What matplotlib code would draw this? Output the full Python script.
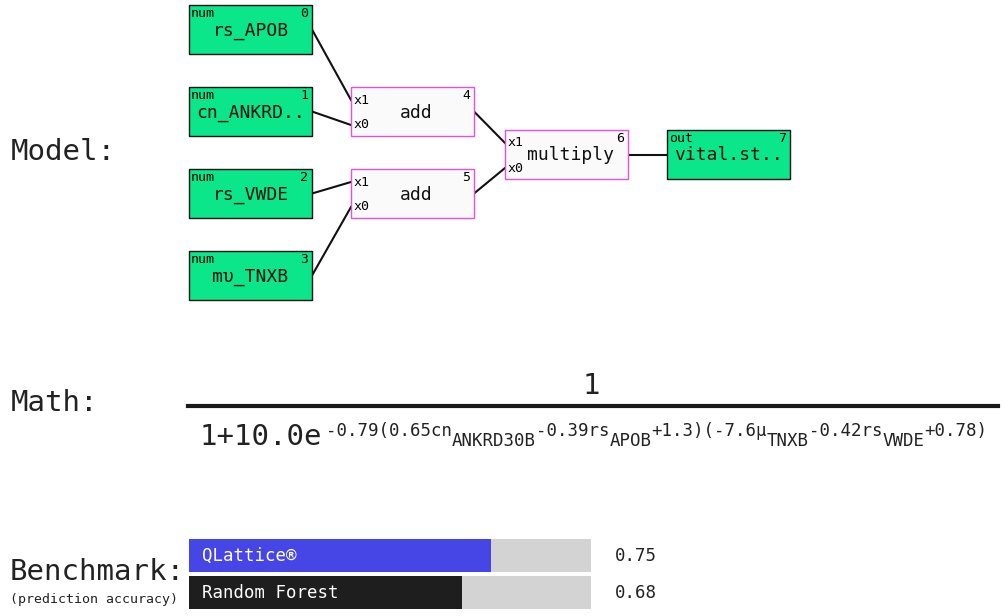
import matplotlib
matplotlib.use("Agg")
import matplotlib.pyplot as plt
from matplotlib.patches import Rectangle

FONT = "DejaVu Sans Mono"
GREEN = "#0be68a"
MAG = "#e650e0"

node_names = ["rs_APOB", "cn_ANKRD..", "rs_VWDE", "mu_TNXB", "add", "add", "multiply", "vital.st.."]
node_tags = ["num", "num", "num", "num", "", "", "", "out"]
node_x = [189, 189, 189, 189, 351, 351, 505, 667]
node_y = [5, 87, 169, 251, 87, 169, 130, 130]
edges = [(0, 4, "x1"), (1, 4, "x0"), (2, 5, "x1"), (3, 5, "x0"), (4, 6, "x1"), (5, 6, "x0"), (6, 7, None)]

bench_labels = ["QLattice\u00ae", "Random Forest"]
bench_values = [0.75, 0.68]
bench_colors = ["#4646e6", "#1e1e1e"]

# exponent pieces: (text, is_subscript)
exp_parts = [("-0.79(0.65cn", False), ("ANKRD30B", True), ("-0.39rs", False), ("APOB", True),
             ("+1.3)(-7.6\u03bc", False), ("TNXB", True), ("-0.42rs", False), ("VWDE", True), ("+0.78)", False)]

W, H = 1005, 616
fig = plt.figure(figsize=(W / 100, H / 100), dpi=100)
ax = fig.add_axes([0, 0, 1, 1])
ax.set_xlim(0, W)
ax.set_ylim(H, 0)
ax.axis("off")

BW, BH = 123, 49
for i, (nm, tg, x, y) in enumerate(zip(node_names, node_tags, node_x, node_y)):
    op = tg == ""
    ax.add_patch(Rectangle((x, y), BW, BH, facecolor="#fafafa" if op else GREEN,
                           edgecolor=MAG if op else "#111111", lw=1, zorder=2))
    disp = nm.replace("mu_", "\u03bcu_") if False else nm
    if nm == "mu_TNXB":
        disp = "m\u03c5_TNXB"
    ax.text(x + BW / 2 + (4 if op else 0), y + BH / 2 + 1, disp, fontsize=13, family=FONT,
            ha="center", va="center", zorder=3, color="#111")
    ax.text(x + BW - 4, y + 2, str(i), fontsize=9.5, family=FONT, ha="right", va="top", zorder=3)
    if tg:
        ax.text(x + 2, y + 2, tg, fontsize=9.5, family=FONT, ha="left", va="top", zorder=3)

for s, d, port in edges:
    sx, sy = node_x[s] + BW, node_y[s] + BH / 2
    dx = node_x[d]
    if port == "x1":
        dy = node_y[d] + 13
    elif port == "x0":
        dy = node_y[d] + 38
    else:
        dy = node_y[d] + BH / 2
    ax.plot([sx, dx], [sy, dy], color="#111", lw=1.5, zorder=1)
    if port:
        ax.text(dx + 3, dy, port, fontsize=9.5, family=FONT, ha="left", va="center", zorder=3)

ax.text(11, 152, "Model:", fontsize=21, family=FONT, va="center", color="#222")
ax.text(11, 403, "Math:", fontsize=21, family=FONT, va="center", color="#222")
ax.text(10, 572, "Benchmark:", fontsize=21, family=FONT, va="center", color="#222")
ax.text(10, 600, "(prediction accuracy)", fontsize=9.5, family=FONT, va="center", color="#222")

# math
ax.plot([188, 998], [405.5, 405.5], color="#1a1a1a", lw=3)
ax.text(591, 386, "1", fontsize=21, family=FONT, ha="center", va="center", color="#222")
ax.text(200, 437, "1+10.0e", fontsize=21, family=FONT, ha="left", va="center", color="#222")
x = 326
adv = 10.5
for t, sub in exp_parts:
    ax.text(x, 441 if sub else 431, t, fontsize=12.5, family=FONT, ha="left", va="center", color="#222")
    x += adv * len(t)

# benchmark
BX, BWID = 189, 402
for i, (lab, v, c) in enumerate(zip(bench_labels, bench_values, bench_colors)):
    y = 539 + i * 37
    ax.add_patch(Rectangle((BX, y), BWID, 33, facecolor="#d3d3d3", lw=0))
    ax.add_patch(Rectangle((BX, y), BWID * v, 33, facecolor=c, lw=0))
    ax.text(BX + 13, y + 17, lab, fontsize=12.5, family=FONT, color="white", va="center")
    ax.text(615, y + 17, f"{v:.2f}", fontsize=12.5, family=FONT, color="#222", va="center")

fig.savefig("out.png", dpi=100)
